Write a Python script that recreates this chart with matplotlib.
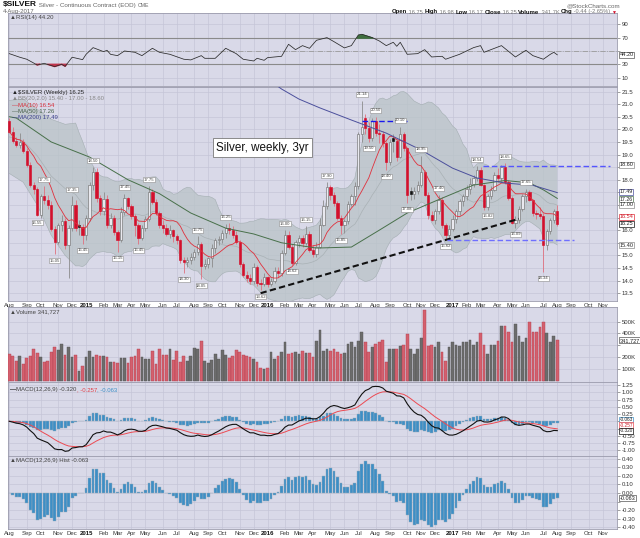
import numpy as np
import pandas as pd
import matplotlib
matplotlib.use("Agg")  # Headless backend
import matplotlib.pyplot as plt
import matplotlib.dates as mdates
import matplotlib.transforms as mtransforms
from matplotlib.patches import Rectangle, Polygon

# ============================================================
# $SILVER weekly, 3yr  -  StockCharts style re-draw
# panels: RSI(14) / price + BB + MAs / volume / MACD / MACD hist
# ============================================================

W, H = 640, 538
plt.rcParams["font.family"] = ["Liberation Sans", "DejaVu Sans"]

# weekly bars (Friday), 1 Aug 2014 .. 4 Aug 2017
week_dates = pd.date_range("2014-08-01", "2017-08-04", freq="W-FRI")

opens = [20.33, 19.91, 19.54, 19.38, 19.50, 19.14, 18.58, 17.79, 17.63, 16.60,
         17.35, 17.20, 17.00, 16.05, 15.55, 16.20, 16.35, 15.40, 16.07, 17.00,
         16.20, 16.12, 15.80, 16.50, 17.80, 18.30, 17.27, 16.77, 17.25, 16.20,
         16.50, 15.93, 15.60, 16.73, 17.26, 16.95, 16.55, 16.20, 15.70, 16.10,
         16.45, 17.53, 17.13, 16.67, 16.20, 16.07, 15.85, 16.00, 15.75, 15.60,
         14.80, 14.72, 14.82, 14.95, 15.12, 15.45, 14.58, 14.65, 14.88, 15.28,
         15.60, 15.65, 15.90, 16.10, 16.00, 15.80, 15.55, 14.65, 14.22, 14.10,
         13.97, 14.55, 13.90, 13.85, 14.15, 13.85, 14.00, 14.40, 14.30, 15.10,
         15.80, 15.35, 14.70, 15.54, 15.70, 15.50, 15.85, 15.22, 15.05, 15.35,
         16.20, 16.95, 17.70, 17.40, 17.06, 16.50, 16.20, 16.35, 17.05, 17.35,
         17.75, 19.80, 20.45, 20.05, 19.65, 20.35, 19.85, 19.80, 19.45, 18.72,
         19.65, 19.55, 18.90, 19.80, 19.25, 17.55, 17.45, 17.55, 17.80, 18.30,
         17.40, 16.60, 16.40, 16.75, 17.20, 16.20, 15.80, 16.05, 16.45, 16.75,
         17.15, 17.35, 17.65, 17.85, 18.05, 18.40, 17.79, 16.90, 17.35, 17.60,
         18.20, 18.05, 18.50, 17.90, 17.28, 16.30, 16.40, 16.85, 17.35, 17.50,
         17.20, 16.68, 16.65, 16.55, 15.40, 15.95, 16.40, 16.75]

highs = [20.45, 20.10, 19.70, 19.85, 19.60, 19.25, 18.70, 17.90, 17.70, 17.45,
         17.75, 17.40, 17.15, 16.15, 16.30, 16.60, 16.50, 16.20, 17.35, 17.20,
         16.40, 16.25, 16.60, 17.90, 18.50, 18.45, 17.40, 17.50, 17.40, 16.70,
         16.60, 16.00, 16.90, 17.45, 17.30, 17.05, 16.65, 16.30, 16.20, 16.55,
         17.75, 17.65, 17.25, 16.75, 16.40, 16.25, 16.20, 16.05, 15.85, 15.65,
         14.95, 14.95, 15.10, 15.25, 15.75, 15.55, 14.85, 14.95, 15.45, 15.70,
         15.75, 16.00, 16.25, 16.30, 16.15, 15.95, 15.60, 14.75, 14.40, 14.25,
         14.70, 14.60, 14.05, 14.30, 14.20, 14.10, 14.55, 14.55, 15.20, 16.00,
         15.95, 15.45, 15.60, 15.80, 15.80, 16.15, 15.95, 15.40, 15.55, 16.50,
         17.20, 17.90, 17.80, 17.50, 17.15, 16.60, 16.45, 17.15, 17.45, 17.90,
         19.90, 21.14, 20.60, 20.30, 20.45, 20.50, 20.20, 19.95, 19.55, 19.60,
         19.80, 19.60, 20.10, 19.90, 19.30, 17.70, 17.70, 17.95, 18.95, 18.40,
         17.50, 16.75, 16.85, 17.40, 17.30, 16.30, 16.20, 16.60, 16.85, 17.25,
         17.45, 17.80, 18.05, 18.20, 18.54, 18.50, 17.85, 17.45, 17.75, 18.30,
         18.45, 18.60, 18.65, 18.00, 17.35, 16.55, 16.95, 17.45, 17.65, 17.60,
         17.25, 16.80, 16.90, 16.70, 16.05, 16.50, 16.85, 16.98]

lows = [19.85, 19.45, 19.30, 19.25, 19.05, 18.50, 17.70, 17.45, 16.55, 16.50,
        17.05, 16.85, 15.95, 15.05, 15.45, 15.95, 15.25, 14.10, 15.95, 15.95,
        15.80, 15.45, 15.60, 16.35, 17.60, 17.10, 16.60, 16.60, 16.10, 16.10,
        15.80, 15.15, 15.55, 16.60, 16.85, 16.45, 15.75, 15.45, 15.60, 15.95,
        16.35, 17.05, 16.60, 16.10, 15.90, 15.75, 15.70, 15.55, 15.45, 14.70,
        14.30, 14.55, 14.65, 14.80, 15.00, 14.05, 14.45, 14.50, 14.55, 15.10,
        15.40, 15.50, 15.70, 15.85, 15.70, 15.45, 14.55, 14.15, 13.95, 13.85,
        13.85, 13.80, 13.62, 13.80, 13.75, 13.80, 13.90, 14.15, 14.20, 15.00,
        15.25, 14.62, 14.62, 15.35, 15.35, 15.40, 15.15, 14.95, 14.95, 15.30,
        16.15, 16.85, 17.20, 16.95, 16.40, 15.85, 15.90, 16.25, 16.95, 17.00,
        17.65, 19.50, 19.80, 19.50, 19.55, 19.75, 19.45, 19.30, 18.40, 18.60,
        19.10, 18.75, 18.85, 19.15, 17.08, 17.20, 17.25, 17.45, 17.70, 17.35,
        16.45, 16.35, 16.25, 16.65, 16.10, 15.62, 15.70, 15.95, 16.30, 16.60,
        16.95, 17.20, 17.45, 17.70, 17.95, 17.75, 16.80, 16.82, 17.25, 17.55,
        17.90, 17.95, 17.85, 17.20, 16.25, 16.09, 16.30, 16.75, 17.10, 17.15,
        16.55, 16.45, 16.45, 14.34, 15.20, 15.85, 16.30, 16.17]

closes = [19.91, 19.54, 19.38, 19.50, 19.14, 18.58, 17.79, 17.63, 16.60, 17.35,
          17.20, 17.00, 16.05, 15.55, 16.20, 16.35, 15.40, 16.07, 17.00, 16.07,
          16.12, 15.80, 16.50, 17.80, 18.30, 17.27, 16.77, 17.25, 16.20, 16.50,
          15.93, 15.60, 16.73, 17.26, 16.95, 16.55, 16.20, 15.70, 16.10, 16.45,
          17.53, 17.13, 16.67, 16.20, 16.07, 15.85, 16.00, 15.75, 15.60, 14.80,
          14.72, 14.82, 14.95, 15.12, 15.45, 14.58, 14.65, 14.88, 15.28, 15.60,
          15.65, 15.90, 16.10, 16.00, 15.80, 15.55, 14.65, 14.22, 14.10, 13.97,
          14.55, 13.90, 13.85, 14.15, 13.85, 14.00, 14.40, 14.30, 15.10, 15.80,
          15.35, 14.70, 15.54, 15.70, 15.50, 15.85, 15.22, 15.05, 15.35, 16.20,
          16.95, 17.70, 17.40, 17.06, 16.50, 16.20, 16.35, 17.05, 17.35, 17.75,
          19.80, 20.10, 20.05, 19.65, 20.35, 19.85, 19.80, 19.45, 18.72, 19.50,
          19.55, 18.90, 19.80, 19.25, 17.40, 17.45, 17.55, 17.80, 18.30, 17.40,
          16.60, 16.40, 16.75, 17.20, 16.20, 15.80, 16.05, 16.45, 16.75, 17.15,
          17.35, 17.65, 17.85, 18.05, 18.40, 17.79, 16.90, 17.35, 17.60, 18.20,
          18.05, 18.50, 17.90, 17.28, 16.30, 16.40, 16.85, 17.35, 17.50, 17.20,
          16.68, 16.65, 16.55, 15.40, 15.95, 16.40, 16.75, 16.25]

# weekly volume, thousands of contracts
volume_k = [227, 213, 171, 213, 143, 192, 213, 269, 235, 199,
            157, 171, 248, 283, 265, 311, 218, 290, 199, 218,
            87, 123, 199, 255, 199, 221, 213, 213, 199, 157,
            157, 151, 196, 196, 151, 199, 213, 269, 199, 185,
            185, 255, 143, 269, 218, 218, 269, 176, 255, 157,
            207, 171, 213, 277, 269, 339, 171, 151, 176, 227,
            185, 263, 218, 190, 213, 260, 246, 218, 213, 199,
            185, 157, 109, 101, 106, 241, 185, 213, 241, 331,
            227, 235, 241, 227, 255, 232, 235, 199, 339, 429,
            255, 269, 255, 269, 241, 227, 235, 311, 331, 283,
            339, 409, 331, 241, 283, 311, 325, 345, 162, 269,
            269, 269, 297, 303, 395, 269, 227, 269, 364,
            600, 297, 303, 283, 331, 241, 171, 283, 325, 303,
            297, 331, 331, 345, 303, 331, 401, 303, 227, 305,
            305, 339, 465, 459, 415, 325, 479, 381, 325, 361,
            493, 409, 409, 451, 493, 403, 331, 380, 342]

# long averages need history before the chart ->
ma50_weeks = [0, 2, 12, 23, 34, 43, 52, 62, 70, 78, 88, 98, 106, 114, 124, 133, 142, 149, 153, 157]
ma50_vals = [20.50, 20.45, 19.50, 18.90, 18.00, 17.45, 16.68, 16.08, 15.85, 15.50,
             15.29, 15.33, 16.00, 16.68, 17.27, 17.79, 17.97, 17.88, 17.60, 17.26]
ma200_weeks = [74, 78, 83, 89, 98, 108, 118, 127, 134, 142, 150, 157]
ma200_vals = [22.00, 21.60, 21.20, 20.85, 20.37, 19.85, 19.18, 18.46, 18.07, 17.87, 17.78, 17.49]

# first weeks of the Bollinger band (before 20 weeks of data exist)
bb_early_weeks = [0, 4, 8, 12, 16]
bb_early_upper = [21.15, 21.20, 20.80, 20.40, 20.20]
bb_early_mid = [19.70, 19.55, 18.95, 18.15, 17.65]
bb_early_lower = [18.25, 17.90, 17.00, 15.80, 15.00]

# RSI(14)
rsi_weeks = [0, 3, 5, 8, 10, 13, 15, 16, 18, 21, 22, 24, 27, 28, 29, 31, 33, 36, 38, 41,
             43, 46, 50, 52, 55, 56, 59, 62, 65, 67, 70, 71, 73, 74, 78, 80, 82, 84, 86, 88,
             91, 93, 96, 98, 100, 101, 104, 106, 108, 110, 111, 112, 114, 117, 119, 121, 124, 125, 129, 133,
             135, 136, 139, 141, 145, 148, 150, 153, 155, 156, 157]
rsi_vals = [46, 40.6, 37.6, 29, 31.5, 26.6, 30, 27, 40.6, 37, 45, 55, 49, 51, 45, 43, 50, 48, 43, 54,
            48, 45, 37.6, 36.6, 43, 39, 39, 54, 46, 37.6, 35, 39, 36, 40, 42, 60, 52, 58, 54, 66,
            70, 64, 54.6, 58, 74, 75, 70, 65, 58, 63, 57, 63, 45, 46, 52, 41, 42, 37.6, 45, 55,
            58, 48, 54, 58, 41, 51, 43, 37.6, 45, 48, 44.2]

# hand-drawn marks on the chart
trend_weeks = [72, 146]
trend_prices = [13.50, 16.45]
level_start = [101, 135.7, 125.4]
level_end = [114, 172, 161.8]
level_price = [20.33, 18.55, 15.60]
level_color = ["#1a1aee", "#5555ff", "#6f6fff"]

high_label_weeks = [10, 18, 24, 33, 40, 54, 62, 79, 85, 91, 101, 105, 112, 118, 123, 134, 142, 148]
low_label_weeks = [8, 13, 21, 31, 37, 50, 55, 72, 81, 95, 103, 108, 114, 125, 137, 145, 153]

# last values as printed on the chart
LAST = {"close": 16.25, "rsi": 44.20, "ma10": 16.54, "ma50": 17.26, "ma200": 17.49,
        "bb_lo": 15.40, "bb_mid": 17.00, "bb_up": 18.60, "vol": 341727,
        "macd": -0.320, "signal": -0.257, "hist": -0.063}

PANEL_BG = "#d9d9e8"
GRID = "#c5c5d8"
SPINE = "#9a9aac"
RED = "#d3102c"
VOL_RED = "#d4606e"
VOL_GRAY = "#6c6c6c"
BLUE_BAR = "#3d8fc6"

# ---------------- derived series ----------------
o = np.array(opens); hi = np.array(highs); lo = np.array(lows); c = np.array(closes)
cs = pd.Series(c)
prev_c = np.r_[o[0], c[:-1]]
ma10 = cs.rolling(10, min_periods=1).mean().values
bb_mid = cs.rolling(20).mean()
bb_sd = cs.rolling(20).std(ddof=0)
bb_up = (bb_mid + 2 * bb_sd).values
bb_lo = (bb_mid - 2 * bb_sd).values
ema12 = cs.ewm(span=12, adjust=False).mean()
ema26 = cs.ewm(span=26, adjust=False).mean()
macd = (ema12 - ema26).values
signal = pd.Series(macd).ewm(span=9, adjust=False).mean().values
hist = macd - signal

xs = mdates.date2num(week_dates.to_pydatetime())
wk = lambda idx: xs[0] + 7.0 * np.asarray(idx, dtype=float)
x_left, x_right = xs[0] - 2.6, xs[0] + 1218.7

month_days = pd.date_range("2014-08-01", "2017-11-30", freq="W-FRI")
first_fri = month_days.to_series().groupby([month_days.year, month_days.month]).first()
month_pos = mdates.date2num([d.to_pydatetime() for d in first_fri])
month_lab = [str(d.year) if d.month == 1 else d.strftime("%b") for d in first_fri]

# ---------------- figure ----------------
fig = plt.figure(figsize=(W / 100, H / 100), dpi=100, facecolor="white")


def px_axes(top, bottom):
    return fig.add_axes([8 / W, (H - bottom) / H, (617 - 8) / W, (bottom - top) / H])


def style_panel(ax, yticks, ylim, labels):
    ax.set_facecolor(PANEL_BG)
    ax.set_xlim(x_left, x_right)
    ax.set_ylim(*ylim)
    ax.set_yticks(yticks)
    ax.set_yticklabels(labels)
    ax.yaxis.tick_right()
    ax.tick_params(axis="y", labelsize=4.3, length=2, width=0.4, pad=1.2,
                   colors="#555555", labelcolor="#333333")
    ax.set_xticks(month_pos)
    ax.set_xticklabels(month_lab)
    ax.tick_params(axis="x", length=0, labelbottom=False, labelsize=4.3, pad=1.5,
                   labelcolor="#333333")
    ax.grid(True, color=GRID, lw=0.5)
    ax.set_axisbelow(True)
    for sp in ax.spines.values():
        sp.set_color(SPINE)
        sp.set_linewidth(0.6)


def bold_years(ax):
    ax.tick_params(axis="x", labelbottom=True)
    for t in ax.get_xticklabels():
        if t.get_text().isdigit():
            t.set_fontweight("bold")
            t.set_color("#111111")


def value_box(ax, y, text, ec, tc="#222222", size=4.0):
    tr = mtransforms.blended_transform_factory(ax.transAxes, ax.transData)
    ax.text(1.004, y, text, transform=tr, fontsize=size, color=tc, va="center", ha="left",
            bbox=dict(boxstyle="square,pad=0.1", fc="white", ec=ec, lw=0.5),
            clip_on=False, zorder=10)


def fmt_skip(vals, fmt, skip):
    return ["" if any(abs(v - s) < 1e-9 for s in skip) else fmt.format(v) for v in vals]


bg = fig.add_axes([0, 0, 1, 1], zorder=30)
bg.set_xlim(0, W)
bg.set_ylim(H, 0)
bg.axis("off")


def chain_text(x, y, parts, ax=bg, transform=None):
    prev = None
    for s, color, weight, size in parts:
        if prev is None:
            kw = {} if transform is None else {"transform": transform}
            prev = ax.text(x, y, s, color=color, fontweight=weight, fontsize=size,
                           va="bottom", ha="left", zorder=12, **kw)
        else:
            prev = ax.annotate(s, xy=(1, 0), xycoords=prev, va="bottom", ha="left",
                               color=color, fontweight=weight, fontsize=size, zorder=12)
    return prev


# ---------------- header ----------------
chain_text(3, 8, [("$SILVER", "#111111", "bold", 6.0),
                  (" Silver - Continuous Contract (EOD) ", "#666666", "normal", 4.5),
                  ("CME", "#666666", "normal", 3.8)])
bg.text(3, 14.5, "4-Aug-2017", fontsize=4.3, color="#666666", va="bottom")
bg.text(620, 8, "@StockCharts.com", fontsize=4.5, color="#666666", va="bottom", ha="right")
chain_text(392, 14.5, [("Open", "#111111", "bold", 4.35), (" 16.75 ", "#777777", "normal", 4.05),
                       ("High", "#111111", "bold", 4.35), (" 16.98 ", "#777777", "normal", 4.05),
                       ("Low", "#111111", "bold", 4.35), (" 16.17 ", "#777777", "normal", 4.05),
                       ("Close", "#111111", "bold", 4.35), (" 16.25 ", "#777777", "normal", 4.05),
                       ("Volume", "#111111", "bold", 4.35), (" 341.7K ", "#777777", "normal", 4.05),
                       ("Chg", "#111111", "bold", 4.35), (" -0.44 (-2.65%) ", "#777777", "normal", 4.05),
                       ("\u25bc", RED, "normal", 3.6)])

# ---------------- RSI panel ----------------
ax_rsi = px_axes(13, 86)
rt = [10, 30, 50, 70, 90]
style_panel(ax_rsi, rt, (-2.5, 106.9), fmt_skip(rt, "{:.0f}", [50]))
rw = wk(rsi_weeks)
rv = np.array(rsi_vals)
ax_rsi.axhline(70, color="#8a8a8a", lw=0.8, zorder=2)
ax_rsi.axhline(30, color="#8a8a8a", lw=0.8, zorder=2)
ax_rsi.axhline(50, color="#9a9a9a", lw=0.6, ls="-.", zorder=2)
ax_rsi.fill_between(rw, 70, rv, where=rv > 70, interpolate=True, color="#3f6e3f", zorder=3)
ax_rsi.fill_between(rw, 30, rv, where=rv < 30, interpolate=True, color="#c2344c", zorder=3)
ax_rsi.plot(rw, rv, color="#2a2a2a", lw=0.55, zorder=4)
value_box(ax_rsi, LAST["rsi"], "44.20", "#555555")
ax_rsi.text(0.004, 0.97, "\u25b2RSI(14) 44.20", transform=ax_rsi.transAxes, fontsize=4.3,
            color="#444444", va="top", ha="left")

# ---------------- price panel ----------------
ax = px_axes(87, 301)
pt = [13.5 + 0.5 * k for k in range(17)]
style_panel(ax, pt, (13.19, 21.68), fmt_skip(pt, "{:.1f}", [15.5, 16.5, 17.0, 17.5, 18.5]))

# Bollinger band: early read-off values, then computed from closes
up_x = np.r_[wk(bb_early_weeks), xs[19:]]
up_y = np.r_[bb_early_upper, bb_up[19:]]
lo_x = np.r_[wk(bb_early_weeks), xs[19:]]
lo_y = np.r_[bb_early_lower, bb_lo[19:]]
mid_y = np.r_[bb_early_mid, bb_mid.values[19:]]
band = Polygon(np.c_[np.r_[up_x, lo_x[::-1]], np.r_[up_y, lo_y[::-1]]], closed=True,
               fc="#b9c3c7", ec="none", alpha=0.75, zorder=1)
ax.add_patch(band)
ax.plot(up_x, up_y, color="#a4aeb2", lw=0.4, zorder=1.5)
ax.plot(lo_x, lo_y, color="#a4aeb2", lw=0.4, zorder=1.5)
ax.plot(up_x, mid_y, color="#a9b1b5", lw=0.5, zorder=1.5)

# candles
body_w = 4.6
for i in range(len(c)):
    down = c[i] < prev_c[i]
    col = RED if down else "#727272"
    wick = "#e0707e" if down else "#8c8c8c"
    ax.vlines(xs[i], lo[i], hi[i], color=wick, lw=0.6, zorder=3)
    top, bot = max(o[i], c[i]), min(o[i], c[i])
    filled = c[i] < o[i]
    fc = col if filled else "#e9e9ef"
    if filled and not down:
        fc = col = "#111111"
    ax.add_patch(Rectangle((xs[i] - body_w / 2, bot), body_w, max(top - bot, 0.03),
                           fc=fc, ec=col, lw=0.45, zorder=4))

ax.plot(xs, ma10, color="#e0303c", lw=0.6, zorder=5)
ax.plot(wk(ma50_weeks), ma50_vals, color="#48704a", lw=0.7, zorder=5)
ax.plot(wk(ma200_weeks), ma200_vals, color="#4b4f9c", lw=0.7, zorder=5)

ax.plot(wk(trend_weeks), trend_prices, color="#111111", lw=1.5, ls=(0, (3, 1.6)), zorder=6)
for s, e, p, col in zip(level_start, level_end, level_price, level_color):
    ax.plot(wk([s, e]), [p, p], color=col, lw=1.0, ls=(0, (4, 2)), zorder=6, clip_on=False)

lab_box = dict(boxstyle="square,pad=0.12", fc="white", ec="#8c8c8c", lw=0.4)
for i in high_label_weeks:
    ax.annotate(f"{hi[i]:.2f}", xy=(xs[i], hi[i]), xytext=(0, 3.2), textcoords="offset points",
                ha="center", va="bottom", fontsize=3.1, color="#444444", bbox=lab_box, zorder=7)
for i in low_label_weeks:
    ax.annotate(f"{lo[i]:.2f}", xy=(xs[i], lo[i]), xytext=(0, -3.2), textcoords="offset points",
                ha="center", va="top", fontsize=3.1, color="#444444", bbox=lab_box, zorder=7)

value_box(ax, LAST["bb_up"], "18.60", "#8c8c8c")
value_box(ax, LAST["ma200"] + 0.03, "17.49", "#4b4f9c", size=3.8)
value_box(ax, LAST["ma50"] - 0.03, "17.26", "#48704a", size=3.8)
value_box(ax, LAST["bb_mid"], "17.00", "#8c8c8c")
value_box(ax, LAST["ma10"], "16.54", "#e0303c", tc="#d0202c")
value_box(ax, LAST["close"], "16.25", "#111111")
value_box(ax, LAST["bb_lo"], "15.40", "#8c8c8c")

leg = [("\u25b2$SILVER (Weekly) 16.25", "#222222"),
       ("\u25b2BB(20,2.0) 15.40 - 17.00 - 18.60", "#888888"),
       ("\u2014MA(10) 16.54", "#d8303c"),
       ("\u2014MA(50) 17.26", "#48604a"),
       ("\u2014MA(200) 17.49", "#3b3f8c")]
for k, (s, col) in enumerate(leg):
    ax.text(0.006, 0.985 - k * 0.029, s, transform=ax.transAxes, fontsize=4.3, color=col,
            va="top", ha="left", zorder=8)
bold_years(ax)

bg.text(262.5, 147.5, "Silver, weekly, 3yr", ha="center", va="center", fontsize=8.4,
        color="#111111", bbox=dict(boxstyle="square,pad=0.3", fc="white", ec="#7a7a7a", lw=0.6))

# ---------------- volume panel ----------------
ax_v = px_axes(307, 382)
vt = [100, 200, 300, 400, 500]
style_panel(ax_v, vt, (-8, 622), fmt_skip(vt, "{:.0f}K", [300]))
vcol = [VOL_RED if c[i] < prev_c[i] else VOL_GRAY for i in range(len(c))]
vedge = ["#b04050" if v == VOL_RED else "#555555" for v in vcol]
ax_v.bar(xs, volume_k, width=5.4, color=vcol, edgecolor=vedge, lw=0.3, zorder=3)
value_box(ax_v, LAST["vol"] / 1000, "341,727", "#555555")
ax_v.text(0.004, 0.97, "\u25b2Volume 341,727", transform=ax_v.transAxes, fontsize=4.3,
          color="#444444", va="top", ha="left")

# ---------------- MACD panel ----------------
ax_m = px_axes(382, 456)
mt = [-1.0, -0.75, -0.5, -0.25, 0.0, 0.25, 0.5, 0.75, 1.0, 1.25]
style_panel(ax_m, mt, (-1.197, 1.355), fmt_skip(mt, "{:.2f}", [0.0, -0.25]))
ax_m.bar(xs, hist, width=5.6, color=BLUE_BAR, edgecolor="#9aaab8", lw=0.3, zorder=3)
ax_m.plot(xs, signal, color="#ec4a52", lw=0.7, zorder=4)
ax_m.plot(xs, macd, color="#111111", lw=0.8, zorder=5)
# the three last-value boxes sit almost on top of each other; spread them a little
value_box(ax_m, LAST["hist"] + 0.125, "-0.063", BLUE_BAR, size=3.4)
value_box(ax_m, LAST["signal"] + 0.12, "-0.257", "#ec4a52", tc="#d0202c", size=3.4)
value_box(ax_m, LAST["macd"], "-0.320", "#111111", size=3.4)
tr_m = ax_m.transAxes
chain_text(0.004, 0.86, [("\u2014", "#111111", "bold", 4.3),
                         ("MACD(12,26,9) -0.320", "#444444", "normal", 4.3),
                         (", -0.257", "#e04048", "normal", 4.3),
                         (", -0.063", "#3d8fc6", "normal", 4.3)], ax=ax_m, transform=tr_m)

# ---------------- MACD histogram panel ----------------
ax_h = px_axes(456, 529)
ht = [-0.4, -0.3, -0.2, -0.1, 0.0, 0.1, 0.2, 0.3, 0.4]
style_panel(ax_h, ht, (-0.419, 0.430), fmt_skip(ht, "{:.2f}", [-0.1]))
ax_h.bar(xs, hist, width=5.6, color=BLUE_BAR, edgecolor="#9aaab8", lw=0.3, zorder=3)
value_box(ax_h, LAST["hist"], "-0.063", "#555555")
ax_h.text(0.004, 0.97, "\u25b2MACD(12,26,9) Hist -0.063", transform=ax_h.transAxes, fontsize=4.3,
          color="#444444", va="top", ha="left")
bold_years(ax_h)

fig.savefig("out.png", dpi=100, facecolor="white")
print("saved out.png")
